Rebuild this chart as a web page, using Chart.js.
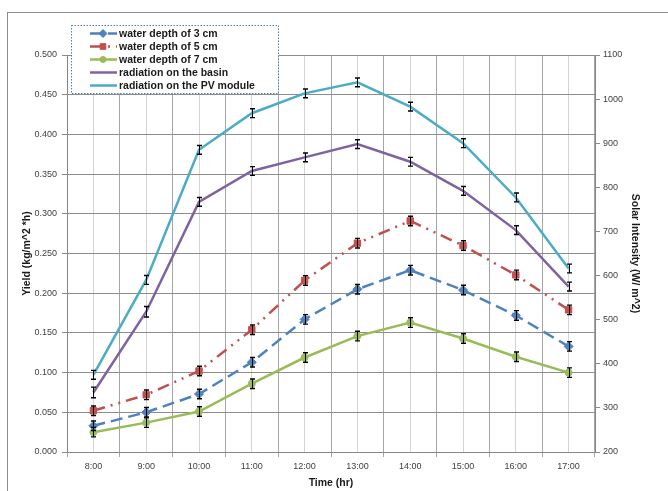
<!DOCTYPE html>
<html>
<head>
<meta charset="utf-8">
<script src="https://cdn.jsdelivr.net/npm/chart.js@4.4.1/dist/chart.umd.min.js"></script>
<style>
  html, body { margin: 0; padding: 0; background: #ffffff; }
  #wrap { position: relative; width: 668px; height: 491px; }
</style>
</head>
<body>
<div id="wrap"><canvas id="chart"></canvas></div>
<script>
// Hourly measurements
const hours = ['8:00', '9:00', '10:00', '11:00', '12:00', '13:00', '14:00', '15:00', '16:00', '17:00'];

// Yield (kg/m^2*h) for each water depth
const depth3cm = [0.033, 0.050, 0.073, 0.113, 0.167, 0.205, 0.229, 0.204, 0.172, 0.133];
const depth5cm = [0.052, 0.072, 0.102, 0.154, 0.216, 0.263, 0.291, 0.260, 0.223, 0.179];
const depth7cm = [0.025, 0.037, 0.051, 0.086, 0.119, 0.146, 0.163, 0.143, 0.120, 0.100];

// Solar intensity (W/m^2)
const radiationBasin = [335, 518, 767, 837, 868, 898, 858, 792, 703, 575];
const radiationPV    = [375, 590, 885, 968, 1013, 1038, 983, 900, 777, 616];

// Measurement uncertainty (half-width of each error bar)
const err3cm   = [0.006, 0.006, 0.006, 0.006, 0.006, 0.006, 0.006, 0.006, 0.006, 0.006];
const err5cm   = [0.006, 0.006, 0.006, 0.006, 0.006, 0.006, 0.006, 0.006, 0.006, 0.006];
const err7cm   = [0.006, 0.006, 0.006, 0.006, 0.006, 0.006, 0.006, 0.006, 0.006, 0.006];
const errBasin = [12, 12, 10, 10, 10, 10, 10, 10, 10, 10];
const errPV    = [10, 10, 10, 10, 10, 10, 10, 10, 10, 10];

// Axis ranges
const yieldMin = 0, yieldMax = 0.5, yieldStep = 0.05;
const solarMin = 200, solarMax = 1100, solarStep = 100;

const FONT = '"Liberation Sans", Arial, sans-serif';

// Outer frame around the whole figure
const framePlugin = {
  id: 'frame',
  beforeDraw(chart) {
    const ctx = chart.ctx;
    ctx.save();
    ctx.strokeStyle = '#8c8c8c';
    ctx.lineWidth = 1;
    ctx.strokeRect(7.5, 12.5, 720, 520);
    ctx.restore();
  }
};

// Vertical error bars with caps
const errorBarPlugin = {
  id: 'errorBars',
  afterDatasetsDraw(chart) {
    const ctx = chart.ctx;
    ctx.save();
    ctx.strokeStyle = '#000000';
    chart.data.datasets.forEach((ds, i) => {
      const meta = chart.getDatasetMeta(i);
      const scale = chart.scales[ds.yAxisID];
      meta.data.forEach((pt, j) => {
        const v = ds.data[j], e = ds.errors[j];
        const x = Math.round(pt.x) + 0.5;
        const y1 = scale.getPixelForValue(v + e);
        const y2 = scale.getPixelForValue(v - e);
        ctx.lineWidth = 1;
        ctx.beginPath();
        ctx.moveTo(x, y1); ctx.lineTo(x, y2);
        ctx.stroke();
        ctx.lineWidth = 1.4;
        ctx.beginPath();
        ctx.moveTo(x - 2.5, y1); ctx.lineTo(x + 2.5, y1);
        ctx.moveTo(x - 2.5, y2); ctx.lineTo(x + 2.5, y2);
        ctx.stroke();
      });
    });
    ctx.restore();
  }
};

// Boxed legend in the upper-left corner
const legendBoxPlugin = {
  id: 'legendBox',
  afterDraw(chart) {
    const ctx = chart.ctx;
    const box = { x: 71.5, y: 25.5, w: 207, h: 68 };
    ctx.save();
    ctx.fillStyle = '#ffffff';
    ctx.fillRect(box.x, box.y, box.w, box.h);
    ctx.strokeStyle = '#4F81BD';
    ctx.lineWidth = 1;
    ctx.setLineDash([1.5, 1.5]);
    ctx.strokeRect(box.x, box.y, box.w, box.h);
    ctx.setLineDash([]);
    const rows = [33.5, 46.5, 59.5, 72.5, 85.5];
    chart.data.datasets.forEach((ds, i) => {
      const y = rows[i];
      ctx.strokeStyle = ds.borderColor;
      ctx.lineWidth = ds.borderWidth;
      ctx.setLineDash(ds.borderDash || []);
      ctx.beginPath();
      ctx.moveTo(90, y); ctx.lineTo(117, y);
      ctx.stroke();
      ctx.setLineDash([]);
      if (ds.pointRadius > 0) {
        ctx.fillStyle = ds.backgroundColor;
        ctx.strokeStyle = ds.borderColor;
        ctx.lineWidth = 1;
        Chart.helpers.drawPoint(ctx, {
          pointStyle: ds.pointStyle, radius: ds.pointRadius - 0.5, borderWidth: 1, rotation: 0
        }, 103, y);
      }
      ctx.fillStyle = '#1a1a1a';
      ctx.font = 'bold 10.5px ' + FONT;
      ctx.textBaseline = 'middle';
      ctx.textAlign = 'left';
      ctx.fillText(ds.label, 119, y + 0.5);
    });
    ctx.restore();
  }
};

const lineBase = { fill: false, tension: 0, borderWidth: 2.5, pointBorderWidth: 1 };

new Chart(document.getElementById('chart'), {
  type: 'line',
  data: {
    labels: hours,
    datasets: [
      Object.assign({}, lineBase, {
        label: 'water depth of 3 cm', data: depth3cm, errors: err3cm, yAxisID: 'y',
        borderColor: '#4F81BD', backgroundColor: '#4F81BD', borderDash: [12, 6],
        pointStyle: 'rectRot', pointRadius: 4.5
      }),
      Object.assign({}, lineBase, {
        label: 'water depth of 5 cm', data: depth5cm, errors: err5cm, yAxisID: 'y',
        borderColor: '#C0504D', backgroundColor: '#C0504D', borderDash: [12, 6, 2, 6, 2, 6],
        pointStyle: 'rect', pointRadius: 4.5
      }),
      Object.assign({}, lineBase, {
        label: 'water depth of 7 cm', data: depth7cm, errors: err7cm, yAxisID: 'y',
        borderColor: '#9BBB59', backgroundColor: '#9BBB59',
        pointStyle: 'circle', pointRadius: 3.5
      }),
      Object.assign({}, lineBase, {
        label: 'radiation on the basin', data: radiationBasin, errors: errBasin, yAxisID: 'y1',
        borderColor: '#7F63A1', backgroundColor: '#7F63A1', pointRadius: 0
      }),
      Object.assign({}, lineBase, {
        label: 'radiation on the PV module', data: radiationPV, errors: errPV, yAxisID: 'y1',
        borderColor: '#4BACC6', backgroundColor: '#4BACC6', pointRadius: 0
      })
    ]
  },
  options: {
    responsive: true,
    maintainAspectRatio: false,
    animation: false,
    devicePixelRatio: 1,
    layout: { padding: { top: 55, left: 0, right: 0, bottom: 0 } },
    plugins: {
      legend: { display: false },
      tooltip: { enabled: false }
    },
    elements: { line: { borderCapStyle: 'butt' } },
    scales: {
      x: {
        type: 'category',
        position: 'bottom',
        offset: true,
        grid: { offset: true, color: '#a6a6a6', lineWidth: 1, tickLength: 5, drawTicks: true },
        border: { color: '#868686' },
        ticks: { color: '#404040', font: { family: FONT, size: 9 }, padding: 4, maxRotation: 0 },
        title: { display: true, text: 'Time (hr)', color: '#1a1a1a',
                 font: { family: FONT, size: 10.5, weight: 'bold' }, padding: { top: 0, bottom: 2 } },
        afterFit(scale) { scale.height = 39; }
      },
      x2: {
        type: 'category',
        position: 'bottom',
        offset: true,
        grid: { offset: false, color: '#d4d4d4', lineWidth: 1, drawTicks: false },
        border: { display: false },
        ticks: { display: false },
        afterFit(scale) { scale.height = 0; }
      },
      y: {
        type: 'linear',
        position: 'left',
        min: yieldMin, max: yieldMax,
        grid: { color: '#8c8c8c', lineWidth: 1, tickLength: 5 },
        border: { color: '#868686' },
        ticks: { stepSize: yieldStep, color: '#404040', font: { family: FONT, size: 9 }, padding: 5,
                 callback: v => Number(v).toFixed(3) },
        title: { display: true, text: 'Yield (kg/m^2 *h)', color: '#1a1a1a',
                 font: { family: FONT, size: 10.5, weight: 'bold' }, padding: { top: 21, bottom: 0 } },
        afterFit(scale) { scale.width = 67; }
      },
      y1: {
        type: 'linear',
        position: 'right',
        min: solarMin, max: solarMax,
        grid: { drawOnChartArea: false, color: '#8c8c8c', tickLength: 5 },
        border: { color: '#868686' },
        ticks: { stepSize: solarStep, color: '#404040', font: { family: FONT, size: 9 }, padding: 3,
                 callback: v => String(v) },
        title: { display: true, text: 'Solar Intensity (W/ m^2)', color: '#1a1a1a',
                 font: { family: FONT, size: 10.5, weight: 'bold' }, padding: { top: 27, bottom: 0 } },
        afterFit(scale) { scale.width = 73; }
      }
    }
  },
  plugins: [framePlugin, errorBarPlugin, legendBoxPlugin]
});
</script>
</body>
</html>
